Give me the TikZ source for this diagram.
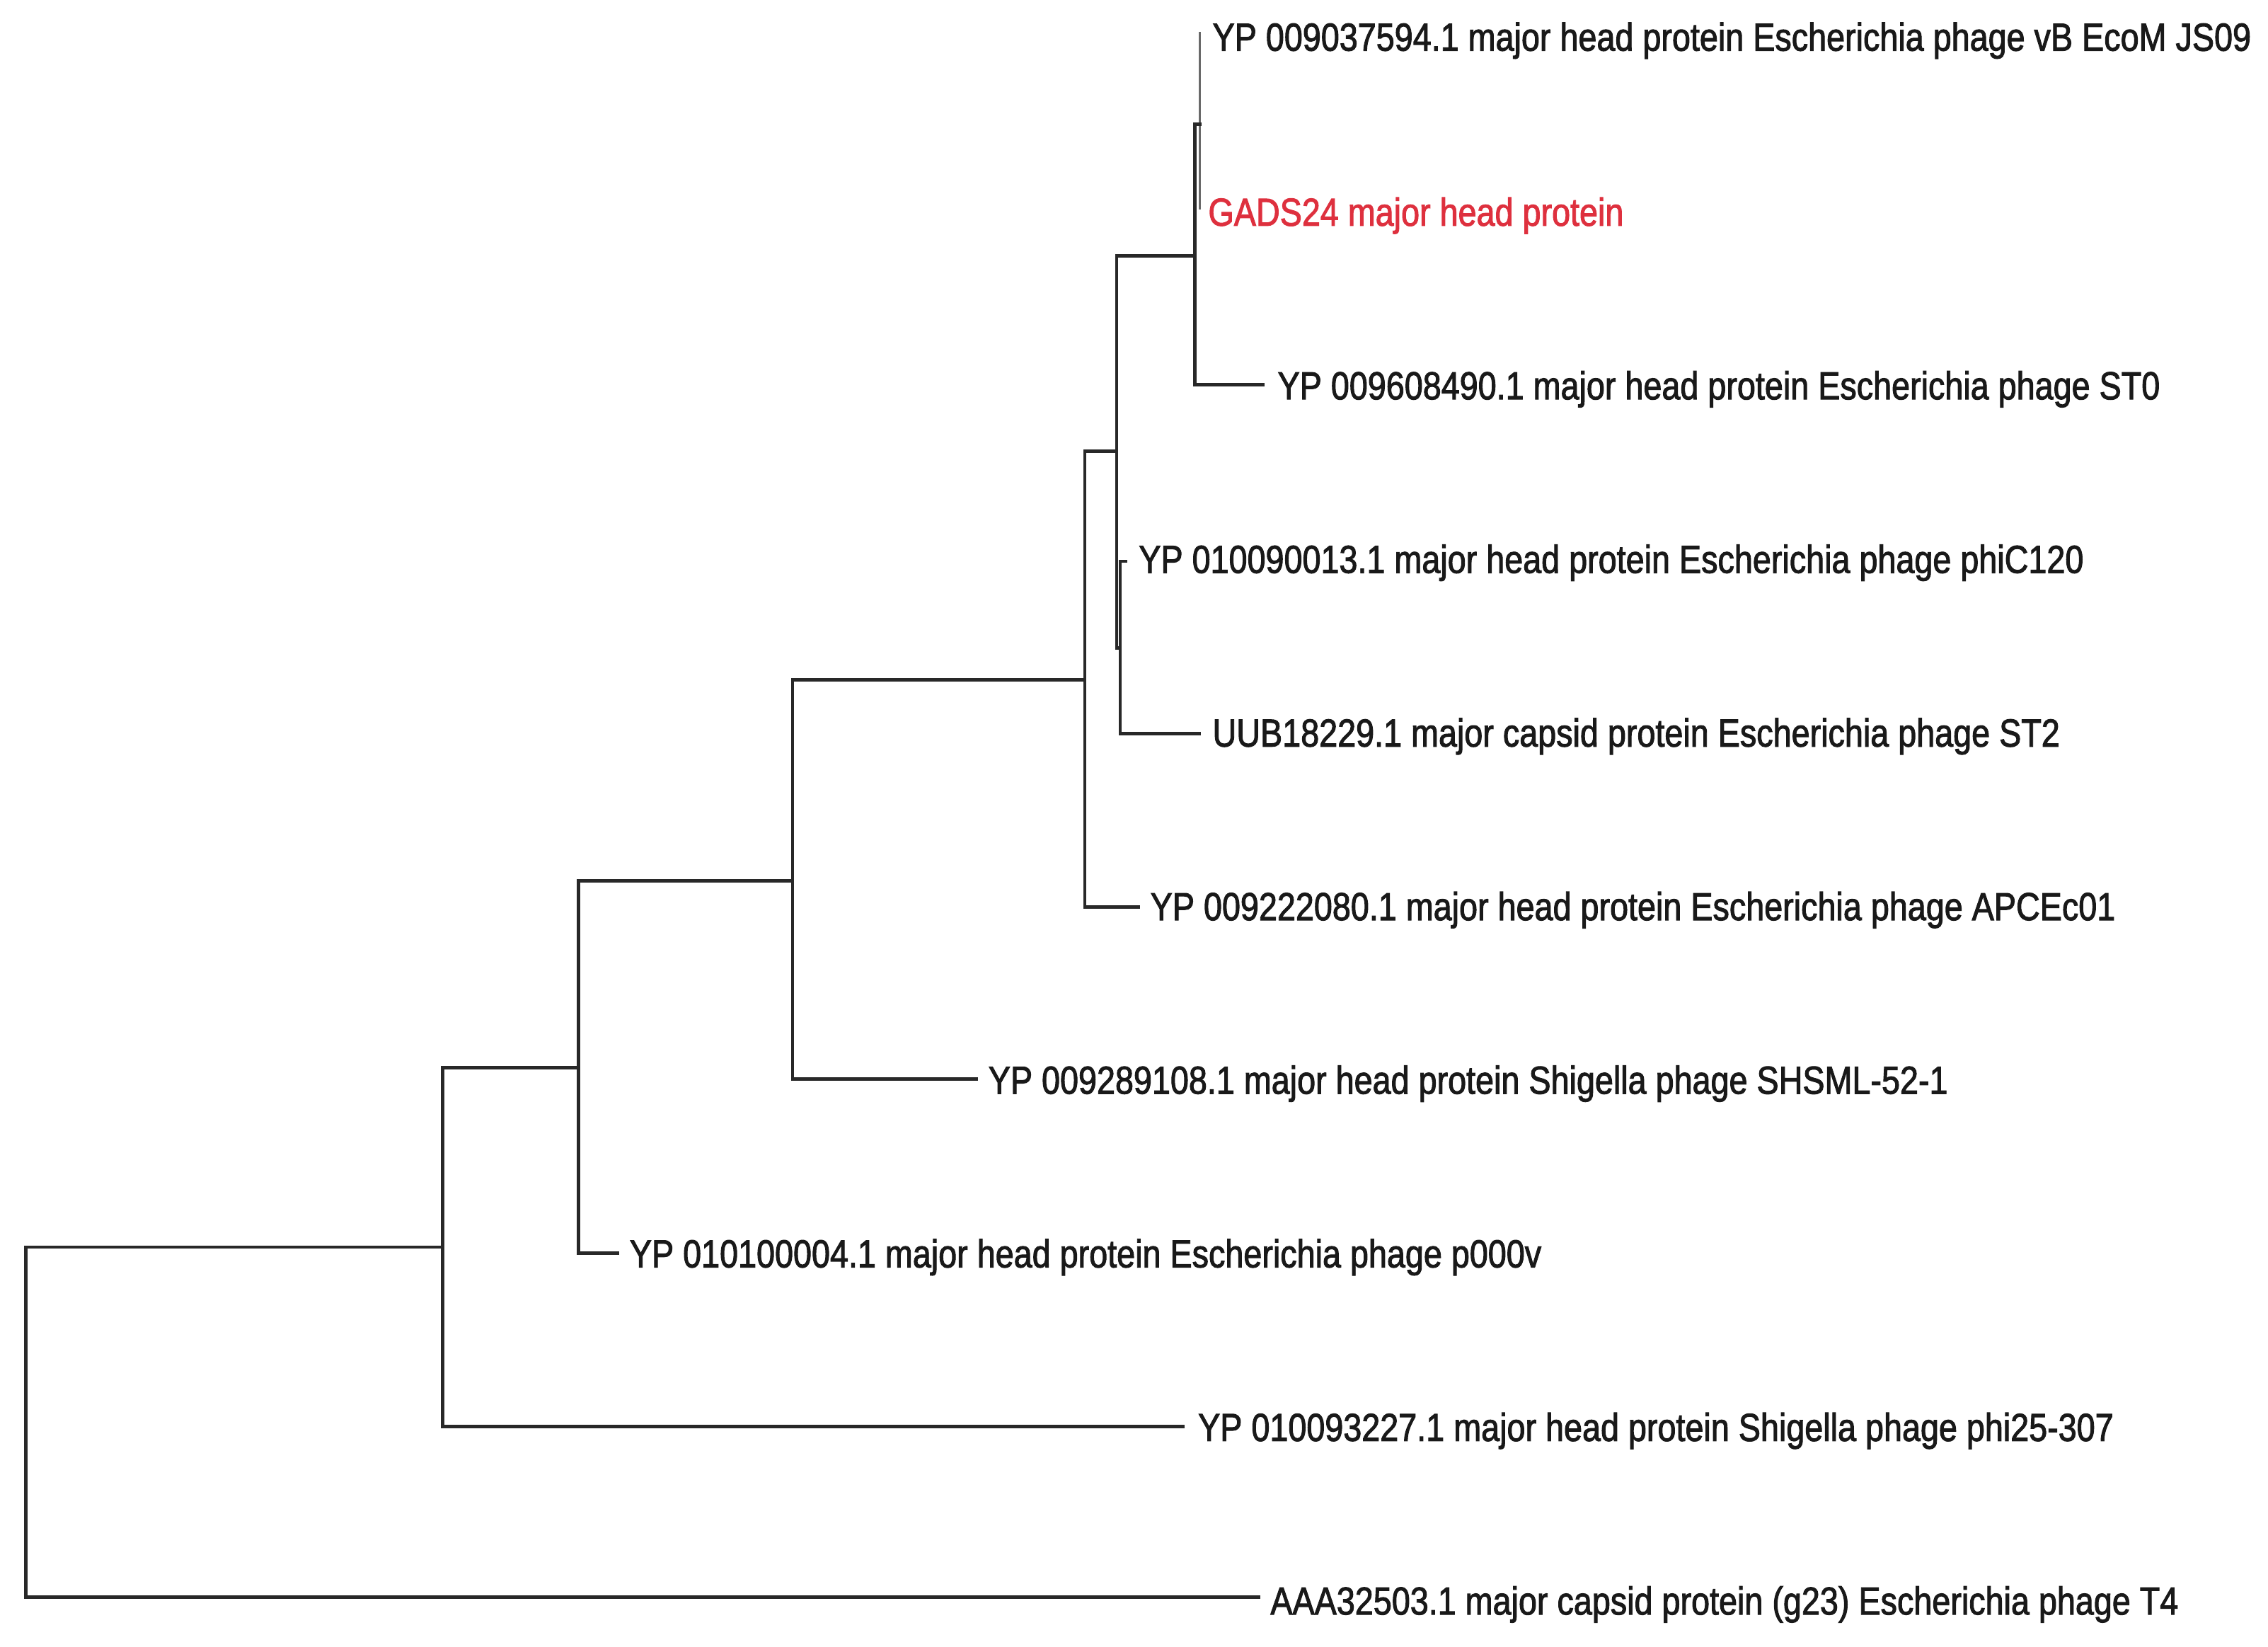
\documentclass[tikz,border=0pt]{standalone}
\usepackage{graphicx}
\usepackage{fontspec}
\setmainfont{Liberation Sans}
\newfontfamily\labfont{Liberation Sans}[FakeBold=2]
\definecolor{branch}{RGB}{40,40,40}
\definecolor{thinbranch}{RGB}{105,105,105}
\definecolor{redlabel}{RGB}{222,48,62}
\newcommand{\lab}[1]{\scalebox{1}[1.18]{#1}}
\begin{document}
\begin{tikzpicture}[x=0.02044cm,y=-0.02044cm,
  edge/.style={draw=branch,line width=1.35pt,line cap=rect},
  thinedge/.style={draw=thinbranch,line width=1pt},
  leaflabel/.style={anchor=base west,inner sep=0pt,font=\labfont\fontsize{13.3}{15}\selectfont,text=black!90},
  redleaf/.style={leaflabel,text=redlabel}]
\useasboundingbox (0,0) rectangle (1568,1138);
% internal nodes
\coordinate (nH) at (829.5,86);
\coordinate (nA) at (826,177);
\coordinate (nB) at (772,312);
\coordinate (nC) at (774.5,448);
\coordinate (nD) at (750,470);
\coordinate (nE) at (548,609);
\coordinate (nF) at (400,738);
\coordinate (nG) at (306,862);
\coordinate (nR) at (18,983);
% leaf tips
\coordinate (t1) at (829.5,22);
\coordinate (t2) at (829.5,145);
\coordinate (t3) at (873,266);
\coordinate (t4) at (778,388);
\coordinate (t5) at (829,507);
\coordinate (t6) at (787,627);
\coordinate (t7) at (675,746);
\coordinate (t8) at (427,866);
\coordinate (t9) at (818,986);
\coordinate (t10) at (870,1104);
% labels
\node[leaflabel] (l1) at (838,35) {\lab{YP 009037594.1 major head protein Escherichia phage vB EcoM JS09}};
\node[redleaf] (l2) at (835,156) {\lab{GADS24 major head protein}};
\node[leaflabel] (l3) at (883,276) {\lab{YP 009608490.1 major head protein Escherichia phage ST0}};
\node[leaflabel] (l4) at (787,396) {\lab{YP 010090013.1 major head protein Escherichia phage phiC120}};
\node[leaflabel] (l5) at (838,516) {\lab{UUB18229.1 major capsid protein Escherichia phage ST2}};
\node[leaflabel] (l6) at (795,636) {\lab{YP 009222080.1 major head protein Escherichia phage APCEc01}};
\node[leaflabel] (l7) at (683,756) {\lab{YP 009289108.1 major head protein Shigella phage SHSML-52-1}};
\node[leaflabel] (l8) at (435,876) {\lab{YP 010100004.1 major head protein Escherichia phage p000v}};
\node[leaflabel] (l9) at (828,996) {\lab{YP 010093227.1 major head protein Shigella phage phi25-307}};
\node[leaflabel] (l10) at (878,1116) {\lab{AAA32503.1 major capsid protein (g23) Escherichia phage T4}};
% branches
\draw[thinedge] (nH) |- (t1);
\draw[thinedge] (nH) |- (t2);
\draw[edge] (nA) |- (nH);
\draw[edge] (nA) |- (t3);
\draw[edge] (nB) |- (nA);
\draw[edge] (nB) |- (nC);
\draw[edge] (nC) |- (t4);
\draw[edge] (nC) |- (t5);
\draw[edge] (nD) |- (nB);
\draw[edge] (nD) |- (t6);
\draw[edge] (nE) |- (nD);
\draw[edge] (nE) |- (t7);
\draw[edge] (nF) |- (nE);
\draw[edge] (nF) |- (t8);
\draw[edge] (nG) |- (nF);
\draw[edge] (nG) |- (t9);
\draw[edge] (nR) |- (nG);
\draw[edge] (nR) |- (t10);
\end{tikzpicture}
\end{document}
